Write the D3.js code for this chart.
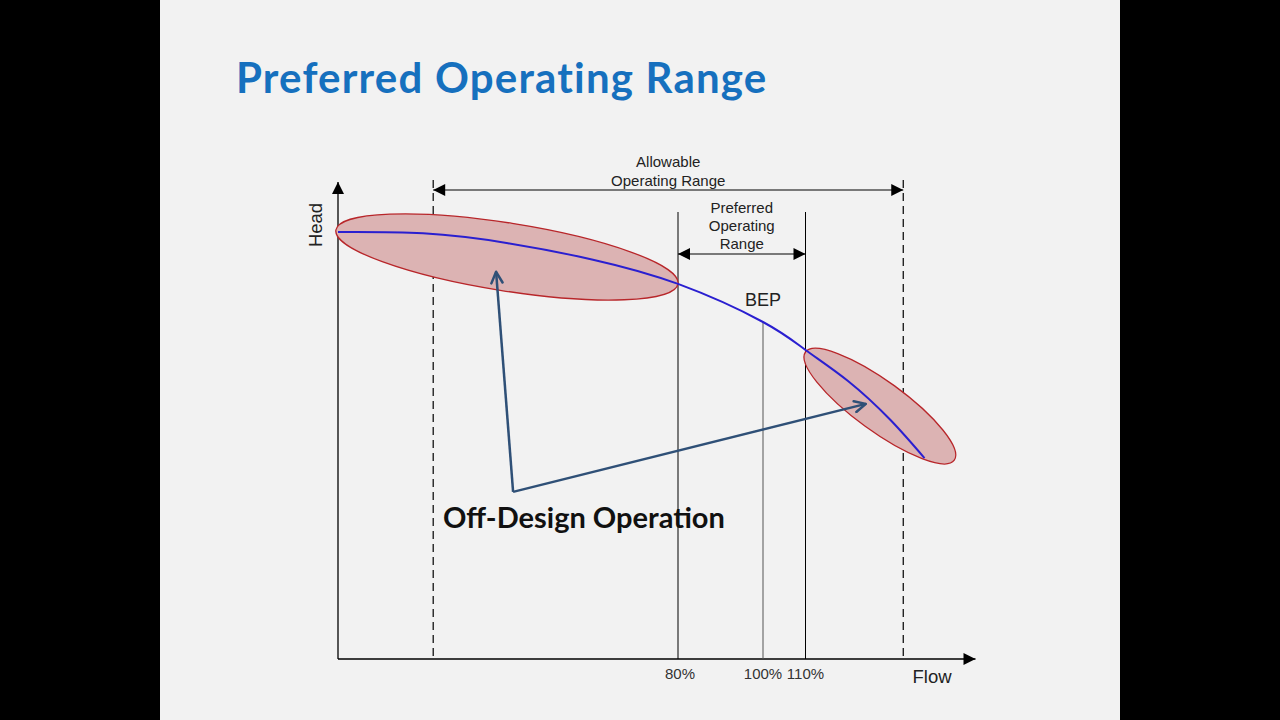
<!DOCTYPE html>
<html>
<head>
<meta charset="utf-8">
<script src="https://cdn.jsdelivr.net/npm/d3@7"></script>
<style>
html,body{margin:0;padding:0;background:#000;}
svg{display:block;}
</style>
</head>
<body>
<svg id="chart" width="1280" height="720"></svg>
<script>
// ---- data ----
const titleText = "Preferred Operating Range";
const curveFlow = [0, 20, 40, 60, 80, 100, 110, 120, 130, 138];      // % of BEP flow
const curveHead = [126.7, 126.3, 123.4, 118.5, 111.3, 100, 91.7, 82.5, 70.9, 59.6]; // % of BEP head
const tickFlows = [80, 100, 110];
const tickLabels = ["80%", "100%", "110%"];
const allowableRange = [22.4, 133];   // flow %
const preferredRange = [80, 110];     // flow %
const bepFlow = 100;
const bepHead = 100;
// off-design zones: endpoints of the major axis in (flow, head)
const zoneLow = {from: [-0.5, 127.3], to: [80, 111.3]};
const zoneHigh = {from: [110, 91.1], to: [145, 59.0]};
const arrowOrigin = [41.2, 49.6];
const arrowTargets = [[37.2, 114.9], [124.2, 75.7]];

// ---- layout ----
const svg = d3.select("#chart");
svg.append("rect").attr("x", 160).attr("y", 0).attr("width", 960).attr("height", 720).attr("fill", "#f2f2f2");

const x = d3.scaleLinear().domain([0, 150]).range([338, 975.5]);
const y = d3.scaleLinear().domain([0, 100]).range([659, 322]);

svg.append("text").attr("x", 236).attr("y", 93)
  .attr("font-family", "Lato, 'Open Sans', sans-serif").attr("font-weight", 700)
  .style("font-variant-ligatures", "none").attr("letter-spacing", 1.2)
  .attr("font-size", 42).attr("fill", "#1670be").text(titleText);

const defs = svg.append("defs");
defs.append("marker").attr("id", "tri").attr("viewBox", "0 0 10 10")
  .attr("refX", 10).attr("refY", 5).attr("markerWidth", 16).attr("markerHeight", 12)
  .attr("markerUnits", "userSpaceOnUse").attr("orient", "auto-start-reverse")
  .append("path").attr("d", "M0,0 L10,5 L0,10 Z").attr("fill", "#000");
defs.append("marker").attr("id", "chev").attr("viewBox", "0 0 10 10")
  .attr("refX", 9).attr("refY", 5).attr("markerWidth", 14).attr("markerHeight", 14)
  .attr("markerUnits", "userSpaceOnUse").attr("orient", "auto")
  .append("path").attr("d", "M1,1 L9,5 L1,9").attr("fill", "none")
  .attr("stroke", "#2f5077").attr("stroke-width", 1.8).attr("stroke-linecap", "round").attr("stroke-linejoin", "round");

const g = svg.append("g");

// axes
g.append("line").attr("x1", x(0)).attr("y1", y(0)).attr("x2", x(0)).attr("y2", 182)
  .attr("stroke", "#000").attr("stroke-width", 1.3).attr("marker-end", "url(#tri)");
g.append("line").attr("x1", x(0)).attr("y1", y(0)).attr("x2", x(150)).attr("y2", y(0))
  .attr("stroke", "#000").attr("stroke-width", 1.3).attr("marker-end", "url(#tri)");

// dashed allowable lines
allowableRange.forEach(f => {
  g.append("line").attr("x1", x(f)).attr("x2", x(f)).attr("y1", 180).attr("y2", y(0))
    .attr("stroke", "#000").attr("stroke-width", 1.2).attr("stroke-dasharray", "8,5");
});
// preferred solid lines
preferredRange.forEach(f => {
  g.append("line").attr("x1", x(f)).attr("x2", x(f)).attr("y1", 212).attr("y2", y(0))
    .attr("stroke", "#000").attr("stroke-width", 1);
});
// BEP line
g.append("line").attr("x1", x(bepFlow)).attr("x2", x(bepFlow)).attr("y1", y(bepHead)).attr("y2", y(0))
  .attr("stroke", "#555").attr("stroke-width", 1);

// range arrows
g.append("line").attr("x1", x(allowableRange[0])).attr("x2", x(allowableRange[1])).attr("y1", 190).attr("y2", 190)
  .attr("stroke", "#000").attr("stroke-width", 1).attr("marker-start", "url(#tri)").attr("marker-end", "url(#tri)");
g.append("line").attr("x1", x(preferredRange[0])).attr("x2", x(preferredRange[1])).attr("y1", 254).attr("y2", 254)
  .attr("stroke", "#000").attr("stroke-width", 1).attr("marker-start", "url(#tri)").attr("marker-end", "url(#tri)");

// ellipses
function drawZone(z, minor) {
  const x1 = x(z.from[0]), y1 = y(z.from[1]), x2 = x(z.to[0]), y2 = y(z.to[1]);
  const cx = (x1 + x2) / 2, cy = (y1 + y2) / 2;
  const a = Math.hypot(x2 - x1, y2 - y1) / 2;
  const ang = Math.atan2(y2 - y1, x2 - x1) * 180 / Math.PI;
  g.append("ellipse").attr("cx", 0).attr("cy", 0).attr("rx", a).attr("ry", minor)
    .attr("transform", `translate(${cx},${cy}) rotate(${ang})`)
    .attr("fill", "#dcb3b3").attr("stroke", "#b8262a").attr("stroke-width", 1.3);
}
drawZone(zoneLow, 34);
drawZone(zoneHigh, 25);

// curve
const pts = curveFlow.map((f, i) => [f, curveHead[i]]);
g.append("path").datum(pts)
  .attr("d", d3.line().x(d => x(d[0])).y(d => y(d[1])).curve(d3.curveNatural))
  .attr("fill", "none").attr("stroke", "#2a1fd0").attr("stroke-width", 2);

// off-design arrows
arrowTargets.forEach(t => {
  g.append("line").attr("x1", x(arrowOrigin[0])).attr("y1", y(arrowOrigin[1]))
    .attr("x2", x(t[0])).attr("y2", y(t[1]))
    .attr("stroke", "#2f5077").attr("stroke-width", 2.5).attr("marker-end", "url(#chev)");
});

// texts
const sans = "'Liberation Sans', Arial, sans-serif";
function txt(xp, yp, s, size, opts = {}) {
  return g.append("text").attr("x", xp).attr("y", yp).attr("font-family", opts.family || sans)
    .attr("font-size", size).attr("fill", opts.fill || "#222")
    .attr("text-anchor", opts.anchor || "middle").attr("font-weight", opts.weight || 400).text(s);
}
const midA = (x(allowableRange[0]) + x(allowableRange[1])) / 2;
txt(midA, 167, "Allowable", 15);
txt(midA, 186, "Operating Range", 15);
const midP = (x(preferredRange[0]) + x(preferredRange[1])) / 2;
txt(midP, 213, "Preferred", 15);
txt(midP, 231, "Operating", 15);
txt(midP, 249, "Range", 15);
txt(x(bepFlow), 306, "BEP", 18);
tickFlows.forEach((f, i) => txt(x(f) + (i === 0 ? 2 : 0), 679, tickLabels[i], 15, {fill: "#333"}));
txt(932, 683, "Flow", 18.5);
g.append("text").attr("transform", "translate(322,225) rotate(-90)")
  .attr("text-anchor", "middle").attr("font-family", sans).attr("font-size", 18.5).attr("fill", "#222").text("Head");

g.append("text").attr("x", 443).attr("y", 528).attr("font-family", "Lato, 'Open Sans', sans-serif")
  .attr("font-weight", 700).attr("font-size", 29).attr("fill", "#111").text("Off-Design Operation");
</script>
</body>
</html>
